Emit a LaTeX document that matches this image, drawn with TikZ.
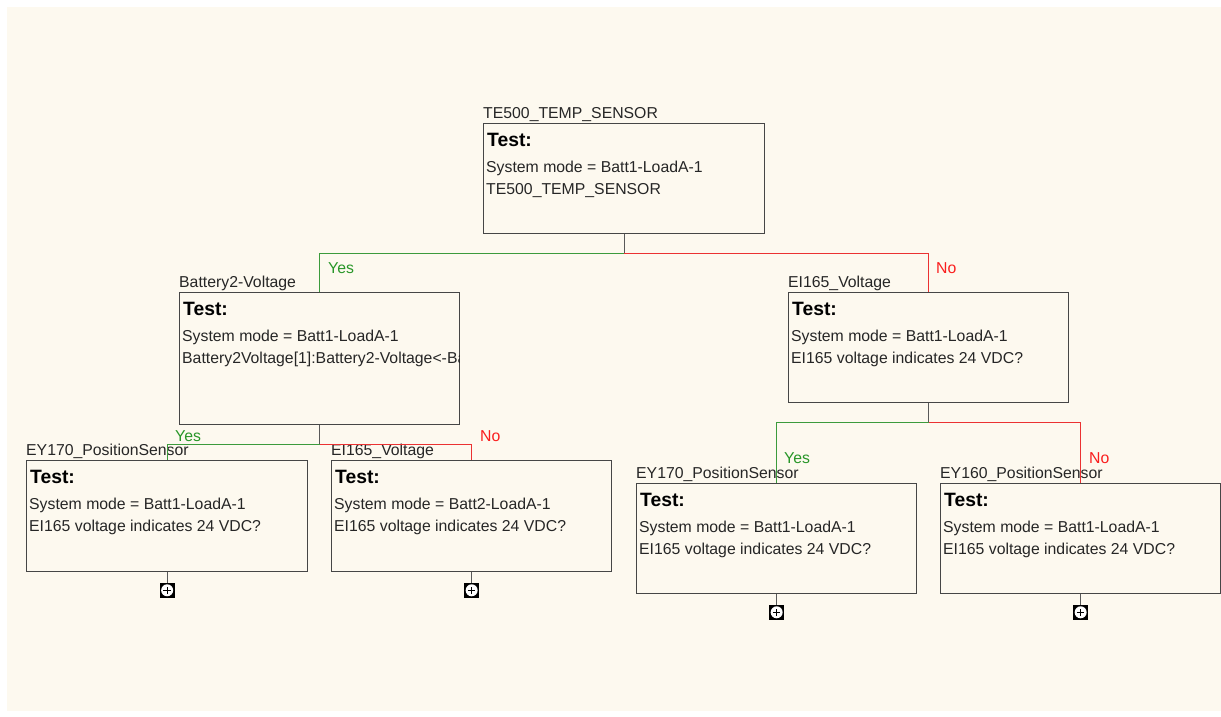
\documentclass[tikz,border=0pt]{standalone}
\usepackage{fontspec}
\setmainfont{Liberation Sans}
\usetikzlibrary{calc}
\definecolor{bg}{RGB}{253,249,239}
\definecolor{bordc}{RGB}{70,70,70}
\definecolor{yestxt}{RGB}{40,150,40}
\definecolor{notxt}{RGB}{250,30,30}
\definecolor{yesline}{RGB}{60,155,60}
\definecolor{noline}{RGB}{235,50,50}
\tikzset{
  tbox/.style={draw=bordc, line width=1.3pt, fill=bg, rectangle, inner sep=0pt},
  lbl/.style={inner sep=0pt, font=\fontsize{15.8}{18}\selectfont, text=black!85},
  ttl/.style={inner sep=0pt, font=\fontsize{19.3}{22}\selectfont\bfseries, text=black},
  yeslbl/.style={inner sep=0pt, font=\fontsize{15.8}{18}\selectfont, text=yestxt, anchor=base west},
  nolbl/.style={inner sep=0pt, font=\fontsize{15.8}{18}\selectfont, text=notxt, anchor=base west},
  stem/.style={draw=bordc!90, line width=1.2pt},
  yesconn/.style={draw=yesline, line width=1.1pt},
  noconn/.style={draw=noline, line width=1.1pt},
  plusicon/.style={fill=black, draw=none, minimum size=15pt, inner sep=0pt, rectangle,
    path picture={
      \fill[white] (path picture bounding box.center) circle (6pt);
      \draw[black, line width=1.2pt] ([xshift=-3.8pt]path picture bounding box.center) -- ([xshift=3.8pt]path picture bounding box.center);
      \draw[black, line width=1.2pt] ([yshift=-3.8pt]path picture bounding box.center) -- ([yshift=3.8pt]path picture bounding box.center);
    }},
}
\newcommand\testnode[8]{%
  \node[tbox, minimum width=#4pt, minimum height=#5pt, anchor=north west] (#1) at (#2,#3) {};
  \node[lbl, anchor=base west] (#1-lab) at ($(#1.north west)+(0,-4.5)$) {#6};
  \begin{scope}
    \clip ($(#1.north west)+(1,1)$) rectangle ($(#1.south east)+(-1,-1)$);
    \node[ttl, anchor=base west] (#1-test) at ($(#1.north west)+(4,23)$) {Test:};
    \node[lbl, anchor=base west] (#1-a) at ($(#1.north west)+(3,49.5)$) {#7};
    \node[lbl, anchor=base west] (#1-b) at ($(#1.north west)+(3,71.5)$) {#8};
  \end{scope}
}
\begin{document}
\begin{tikzpicture}[x=1pt,y=-1pt]
\useasboundingbox (0,0) rectangle (1221,717);
\fill[white] (0,0) rectangle (1221,717);
\fill[bg] (7,7) rectangle (1221,711);

\testnode{top}{483}{123}{281}{110}{TE500\_TEMP\_SENSOR}{System mode = Batt1-LoadA-1}{TE500\_TEMP\_SENSOR}
\testnode{bat}{179}{292}{280}{132}{Battery2-Voltage}{System mode = Batt1-LoadA-1}{Battery2Voltage[1]:Battery2-Voltage<-Battery}
\testnode{eir}{788}{292}{280}{110}{EI165\_Voltage}{System mode = Batt1-LoadA-1}{EI165 voltage indicates 24 VDC?}
\testnode{eyl}{26}{460}{281}{111}{EY170\_PositionSensor}{System mode = Batt1-LoadA-1}{EI165 voltage indicates 24 VDC?}
\testnode{eil}{331}{460}{280}{111}{EI165\_Voltage}{System mode = Batt2-LoadA-1}{EI165 voltage indicates 24 VDC?}
\testnode{eyr}{636}{483}{280}{110}{EY170\_PositionSensor}{System mode = Batt1-LoadA-1}{EI165 voltage indicates 24 VDC?}
\testnode{ey160}{940}{483}{280}{110}{EY160\_PositionSensor}{System mode = Batt1-LoadA-1}{EI165 voltage indicates 24 VDC?}

% junctions
\coordinate (j1) at ($(top.south)+(0,19)$);
\coordinate (j2) at ($(bat.south)+(0,19)$);
\coordinate (j3) at ($(eir.south)+(0,19)$);

\draw[stem] (top.south) -- (j1);
\draw[yesconn] (j1) -| (bat.north);
\draw[noconn] (j1) -| (eir.north);
\draw[stem] (bat.south) -- (j2);
\draw[yesconn] (j2) -| (eyl.north);
\draw[noconn] (j2) -| (eil.north);
\draw[stem] (eir.south) -- (j3);
\draw[yesconn] (j3) -| (eyr.north);
\draw[noconn] (j3) -| (ey160.north);

\node[yeslbl] (y1) at (328,273.5) {Yes};
\node[nolbl] (n1) at (936,273.5) {No};
\node[yeslbl] (y2) at (175,441.5) {Yes};
\node[nolbl] (n2) at (480,441.5) {No};
\node[yeslbl] (y3) at (784,463.5) {Yes};
\node[nolbl] (n3) at (1089,463.5) {No};

% expand icons
\node[plusicon] (p1) at ($(eyl.south)+(0,18)$) {};
\node[plusicon] (p2) at ($(eil.south)+(0,18)$) {};
\node[plusicon] (p3) at ($(eyr.south)+(0,18)$) {};
\node[plusicon] (p4) at ($(ey160.south)+(0,18)$) {};
\draw[stem] (eyl.south) -- (p1.north);
\draw[stem] (eil.south) -- (p2.north);
\draw[stem] (eyr.south) -- (p3.north);
\draw[stem] (ey160.south) -- (p4.north);
\end{tikzpicture}
\end{document}
